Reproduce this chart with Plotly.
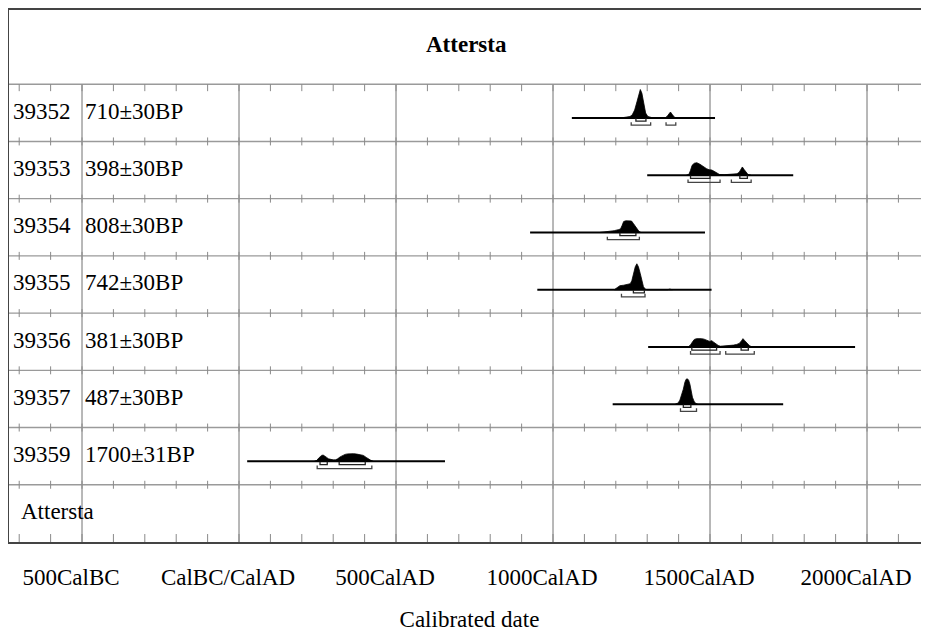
import plotly.graph_objects as go

# ---------------- data ----------------
site_name = "Attersta"
lab_ids = ["39352", "39353", "39354", "39355", "39356", "39357", "39359"]
lab_ages = ["710±30BP", "398±30BP", "808±30BP", "742±30BP", "381±30BP", "487±30BP", "1700±31BP"]

# extent of the calibrated range line (cal years, AD positive)
range_start = [1060, 1300, 927, 950, 1303, 1190, 26]
range_end = [1516, 1765, 1484, 1505, 1962, 1733, 656]

# probability distributions (cal year, relative probability)
dens_years = [
    [1215, 1230, 1245, 1252, 1260, 1268, 1274, 1278, 1283, 1289, 1295, 1302, 1312, 1320, 1356, 1363, 1369, 1374, 1380, 1386, 1392],
    [1425, 1433, 1438, 1443, 1450, 1458, 1468, 1478, 1489, 1497, 1505, 1513, 1521, 1530, 1545, 1560, 1575, 1586, 1593, 1599, 1603, 1608, 1614, 1621, 1630],
    [1150, 1165, 1180, 1195, 1208, 1215, 1220, 1225, 1232, 1242, 1250, 1256, 1262, 1268, 1274, 1280],
    [1195, 1205, 1213, 1225, 1239, 1246, 1251, 1256, 1262, 1267, 1272, 1278, 1283, 1288, 1294, 1300, 1365, 1372, 1380],
    [1430, 1438, 1444, 1450, 1457, 1465, 1473, 1481, 1487, 1493, 1499, 1505, 1512, 1519, 1526, 1533, 1545, 1560, 1575, 1585, 1593, 1600, 1605, 1610, 1617, 1625, 1633],
    [1390, 1398, 1404, 1410, 1415, 1420, 1424, 1428, 1432, 1436, 1440, 1444, 1449, 1455, 1460],
    [240, 248, 253, 258, 263, 268, 273, 279, 285, 292, 300, 307, 314, 322, 330, 338, 346, 354, 365, 375, 385, 396, 405, 413, 420, 428],
]
dens_prob = [
    [0, 0.5, 1.5, 3, 8, 17, 25, 28.6, 25, 14, 5, 1.5, 0.3, 0, 0, 1.5, 4, 6, 3.5, 1, 0],
    [0, 1, 5, 10, 12, 12.6, 11, 8.5, 6.6, 5.5, 5.3, 4, 2.6, 0.8, 0.5, 0.7, 1, 1.5, 3, 6.5, 8.3, 6, 3, 0.7, 0],
    [0, 0.5, 1, 1.8, 2.8, 3.5, 7, 11, 11.7, 11.7, 11.5, 9, 6, 3, 1, 0],
    [0, 2, 4, 4.5, 5, 6, 9, 16, 23, 26, 23, 16, 8, 3, 0.5, 0, 0, 0.6, 0],
    [0, 2, 5, 7.5, 8.3, 8.5, 8.3, 7.8, 7, 5.7, 5.5, 6.3, 4.5, 3, 1.5, 0.7, 0.8, 1.2, 1.8, 2.5, 3.5, 6, 8.3, 6.5, 4, 1.5, 0],
    [0, 1, 4, 9, 15, 22, 25, 25.4, 24, 20, 13, 7, 3, 0.5, 0],
    [0, 1, 3, 5, 6, 6.3, 5.5, 4, 2.5, 1.8, 1.5, 1.5, 2.5, 4.5, 6, 7, 7.5, 7.7, 7.7, 7.3, 7, 6, 4, 2, 1, 0],
]

# 68.2% and 95.4% ranges
sigma1 = [
    [[1264, 1296]],
    [[1438, 1500], [1595, 1619]],
    [[1213, 1264]],
    [[1256, 1291]],
    [[1442, 1521], [1599, 1622]],
    [[1415, 1439]],
    [[258, 281], [319, 402]],
]
sigma2 = [
    [[1249, 1311], [1360, 1391]],
    [[1430, 1532], [1568, 1631]],
    [[1173, 1275]],
    [[1218, 1293]],
    [[1438, 1532], [1550, 1641]],
    [[1406, 1457]],
    [[249, 423]],
]

major_years = [-500, 0, 500, 1000, 1500, 2000]
major_labels = ["500CalBC", "CalBC/CalAD", "500CalAD", "1000CalAD", "1500CalAD", "2000CalAD"]
minor_years = list(range(-700, 2101, 100))

# ---------------- layout constants ----------------
W, H = 922, 629
ML, MR, MT, MB = 1, 0, 0, 95
X_RANGE = [-732.5, 2200.6]
PXR = 57.44                     # pixels per row
n_rows = len(lab_ids) + 1       # samples + site row
Y_TOP = (H - MT - MB) / PXR     # header band on top
FONT = "Liberation Serif"
FS = 23

def px(v):
    return v / PXR

fig = go.Figure()

# vertical major gridlines (rows area only)
gx, gy = [], []
for yr in major_years:
    gx += [yr, yr, None]
    gy += [0, n_rows, None]
fig.add_trace(go.Scatter(x=gx, y=gy, mode="lines", line=dict(color="#9a9a9a", width=1.4),
                         hoverinfo="skip", showlegend=False))

# row boundary lines
hx, hy = [], []
for b in range(1, n_rows + 1):
    hx += [X_RANGE[0], X_RANGE[1], None]
    hy += [b, b, None]
fig.add_trace(go.Scatter(x=hx, y=hy, mode="lines", line=dict(color="#9a9a9a", width=1.4),
                         hoverinfo="skip", showlegend=False))

# small tick marks along every boundary
tx, ty = [], []
for b in range(0, n_rows + 1):
    if b == 0:
        lo, hi = b, b + px(8)
    elif b == n_rows:
        lo, hi = b - px(7), b
    else:
        lo, hi = b - px(4), b + px(4)
    for yr in minor_years:
        tx += [yr, yr, None]
        ty += [lo, hi, None]
fig.add_trace(go.Scatter(x=tx, y=ty, mode="lines", line=dict(color="#8a8a8a", width=1),
                         hoverinfo="skip", showlegend=False))

annotations = []
for i in range(len(lab_ids)):
    row_bottom = n_rows - 1 - i
    base = row_bottom + px(23.5)
    # range line
    fig.add_trace(go.Scatter(x=[range_start[i], range_end[i]], y=[base, base], mode="lines",
                             line=dict(color="black", width=2), hoverinfo="skip", showlegend=False))
    # density polygon
    xs = list(dens_years[i]) + [dens_years[i][-1], dens_years[i][0]]
    ys = [base + px(p) for p in dens_prob[i]] + [base, base]
    fig.add_trace(go.Scatter(x=xs, y=ys, mode="lines", fill="toself", fillcolor="black",
                             line=dict(color="black", width=0.8), hoverinfo="skip", showlegend=False))
    # 68.2% brackets
    bx, by = [], []
    for a, b in sigma1[i]:
        y1 = base - px(3.2)
        bx += [a, a, b, b, None]
        by += [base - px(0.3), y1, y1, base - px(0.3), None]
    fig.add_trace(go.Scatter(x=bx, y=by, mode="lines", line=dict(color="#222", width=1.3),
                             hoverinfo="skip", showlegend=False))
    # 95.4% brackets
    bx, by = [], []
    for a, b in sigma2[i]:
        y2 = base - px(7.2)
        bx += [a, a, b, b, None]
        by += [y2 + px(3), y2, y2, y2 + px(3), None]
    fig.add_trace(go.Scatter(x=bx, y=by, mode="lines", line=dict(color="#444", width=1.3),
                             hoverinfo="skip", showlegend=False))
    # labels
    yc = row_bottom + 0.5 + px(1.5)
    annotations.append(dict(x=0, xref="paper", y=yc, yref="y", text=lab_ids[i], showarrow=False,
                            xanchor="left", yanchor="middle", xshift=2,
                            font=dict(family=FONT, size=FS, color="black")))
    annotations.append(dict(x=major_years[0], xref="x", y=yc, yref="y", text=lab_ages[i], showarrow=False,
                            xanchor="left", yanchor="middle", xshift=1,
                            font=dict(family=FONT, size=FS, color="black")))

# site row label
annotations.append(dict(x=0, xref="paper", y=0.5 + px(1.5), yref="y", text=site_name, showarrow=False,
                        xanchor="left", yanchor="middle", xshift=10,
                        font=dict(family=FONT, size=FS, color="black")))
# header title
annotations.append(dict(x=0.5, xref="paper", y=(n_rows + Y_TOP) / 2 + px(3), yref="y",
                        text="<b>" + site_name + "</b>", showarrow=False, xanchor="center",
                        yanchor="middle", xshift=-3,
                        font=dict(family=FONT, size=FS, color="black")))

fig.update_layout(
    width=W, height=H,
    margin=dict(l=ML, r=MR, t=MT, b=MB),
    paper_bgcolor="white", plot_bgcolor="white",
    showlegend=False,
    annotations=annotations,
    xaxis=dict(range=X_RANGE, showgrid=False, zeroline=False,
               tickmode="array", tickvals=major_years, ticktext=major_labels,
               ticks="", ticklabelshift=-11, ticklabelstandoff=14,
               tickfont=dict(family=FONT, size=FS, color="black"),
               showline=True, linecolor="#444", linewidth=1.5, mirror=True,
               title=dict(text="Calibrated date", standoff=22,
                          font=dict(family=FONT, size=FS, color="black"))),
    yaxis=dict(range=[0, Y_TOP], showgrid=False, zeroline=False, showticklabels=False,
               ticks="", showline=True, linecolor="#444", linewidth=1.5, mirror=False),
)

fig.write_html("out.html")
